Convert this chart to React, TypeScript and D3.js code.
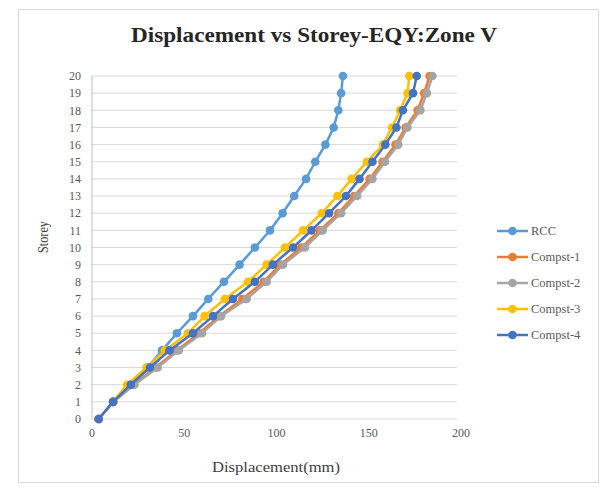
import React from "react";
import * as d3 from "d3";

const storeys: number[] = d3.range(0, 21);
const rcc: number[] = [3.6, 11.4, 20.5, 30, 38, 46, 54.7, 63, 71.5, 80, 88.3, 96.5, 103.3, 109.6, 116, 121, 126.5, 131, 133.5, 135, 136];
const compst1: number[] = [3.6, 11.5, 22.5, 34.5, 46, 58, 69, 81.5, 93, 102, 113.5, 123.5, 133.5, 142, 150.5, 157.5, 164.5, 170, 176.5, 180, 183];
const compst2: number[] = [3.6, 11.6, 23, 35.6, 47, 59.6, 70, 83.8, 94.7, 103.5, 115.4, 125, 135, 143.6, 152, 158.8, 166, 171, 178, 181.5, 184.5];
const compst3: number[] = [3.6, 11.4, 19, 29.6, 39.5, 52, 61, 72, 84.5, 94.6, 104.6, 114.5, 124.5, 133, 140.7, 149, 157.7, 162.6, 167, 171, 172];
const compst4: number[] = [3.6, 11.4, 21, 31.4, 42, 54.7, 65.6, 76.4, 88.3, 98, 109, 119, 128.5, 137.6, 145, 152, 159, 165, 168.5, 174, 176];
const seriesNames: string[] = ["RCC", "Compst-1", "Compst-2", "Compst-3", "Compst-4"];
const seriesColors: string[] = ["#5B9BD5", "#ED7D31", "#A5A5A5", "#FFC000", "#4472C4"];
const xTicks: number[] = [0, 50, 100, 150, 200];
const yTicks: number[] = d3.range(0, 21);

const FONT = "'Liberation Serif', 'Times New Roman', serif";

export default function App() {
  const W = 610;
  const H = 490;
  const plot = { left: 92, right: 461, top: 76, bottom: 419 };
  const x = d3.scaleLinear().domain([0, 200]).range([plot.left, plot.right]);
  const y = d3.scaleLinear().domain([0, 20]).range([plot.bottom, plot.top]);
  const data = [rcc, compst1, compst2, compst3, compst4];
  const line = d3
    .line<number>()
    .x((d) => x(d))
    .y((_, i) => y(storeys[i]));

  const legendY0 = 231;
  const legendStep = 26;

  return (
    <svg
      width={W}
      height={H}
      style={{ position: "absolute", left: 0, top: 0, background: "#fff" }}
      fontFamily={FONT}
    >
      <rect x={18.5} y={9.5} width={580} height={473} fill="#fff" stroke="#d9d9d9" />
      <text
        x={314}
        y={42}
        textAnchor="middle"
        fontSize={21}
        fontWeight="bold"
        fill="#262626"
        textLength={366}
        lengthAdjust="spacingAndGlyphs"
      >
        Displacement vs Storey-EQY:Zone V
      </text>

      {/* horizontal gridlines */}
      {yTicks.map((t) => (
        <line
          key={"g" + t}
          x1={plot.left}
          x2={x(200) - 4}
          y1={y(t)}
          y2={y(t)}
          stroke="#d9d9d9"
          strokeWidth={1}
        />
      ))}
      <line x1={plot.left} x2={plot.left} y1={plot.top} y2={plot.bottom} stroke="#bfbfbf" />

      {/* y tick labels */}
      {yTicks.map((t) => (
        <text
          key={"y" + t}
          x={plot.left - 11}
          y={y(t)}
          dy="0.35em"
          textAnchor="end"
          fontSize={12}
          fill="#595959"
        >
          {t}
        </text>
      ))}
      {/* x tick labels */}
      {xTicks.map((t) => (
        <text
          key={"x" + t}
          x={x(t)}
          y={437}
          textAnchor="middle"
          fontSize={12}
          fill="#595959"
        >
          {t}
        </text>
      ))}

      <text
        x={276}
        y={472}
        textAnchor="middle"
        fontSize={15}
        fill="#404040"
        textLength={128}
        lengthAdjust="spacingAndGlyphs"
      >
        Displacement(mm)
      </text>
      <text
        transform={`translate(48, 237) rotate(-90)`}
        textAnchor="middle"
        fontSize={15}
        fill="#404040"
        textLength={32}
        lengthAdjust="spacingAndGlyphs"
      >
        Storey
      </text>

      {/* series */}
      {data.map((vals, si) => (
        <g key={"s" + si}>
          <path d={line(vals) ?? ""} fill="none" stroke={seriesColors[si]} strokeWidth={2.5} />
          {vals.map((v, i) => (
            <circle key={i} cx={x(v)} cy={y(storeys[i])} r={4.3} fill={seriesColors[si]} />
          ))}
        </g>
      ))}

      {/* legend */}
      {seriesNames.map((name, i) => {
        const ly = legendY0 + i * legendStep;
        return (
          <g key={"l" + name}>
            <line x1={497} x2={528} y1={ly} y2={ly} stroke={seriesColors[i]} strokeWidth={2.5} />
            <circle cx={512.5} cy={ly} r={4.3} fill={seriesColors[i]} />
            <text x={531} y={ly} dy="0.35em" fontSize={12.5} fill="#595959">
              {name}
            </text>
          </g>
        );
      })}
    </svg>
  );
}
